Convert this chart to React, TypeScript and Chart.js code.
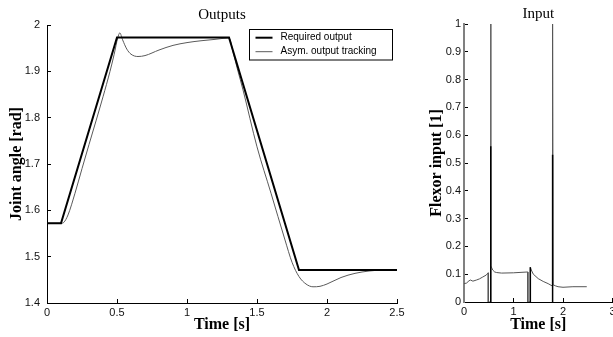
import React, { useEffect, useRef } from "react";
import { Chart, registerables } from "chart.js";
Chart.register(...registerables);

// ---- Outputs plot data ----
const requiredTime = [0, 0.1, 0.5, 1.3, 1.8, 2.5];
const requiredAngle = [1.572, 1.572, 1.973, 1.973, 1.471, 1.471];

const trackingTime = [0, 0.1, 0.12, 0.15, 0.2, 0.25, 0.3, 0.35, 0.4, 0.45, 0.48, 0.505, 0.52, 0.54, 0.57, 0.6, 0.65, 0.7, 0.8, 0.9, 1.0, 1.1, 1.2, 1.3, 1.33, 1.36, 1.4, 1.5, 1.6, 1.7, 1.75, 1.8, 1.85, 1.9, 1.95, 2.0, 2.1, 2.2, 2.3, 2.4, 2.5];
const trackingAngle = [1.572, 1.572, 1.574, 1.59, 1.637, 1.69, 1.742, 1.793, 1.845, 1.9, 1.937, 1.972, 1.983, 1.968, 1.948, 1.937, 1.932, 1.934, 1.946, 1.956, 1.962, 1.966, 1.969, 1.972, 1.94, 1.905, 1.86, 1.737, 1.637, 1.536, 1.488, 1.457, 1.441, 1.435, 1.436, 1.441, 1.455, 1.464, 1.469, 1.471, 1.471];

const outputsXTicks = [0, 0.5, 1, 1.5, 2, 2.5];
const outputsYTicks = [1.4, 1.5, 1.6, 1.7, 1.8, 1.9, 2];

// ---- Input plot data ----
const inputTime = [0, 0.05, 0.1, 0.13, 0.18, 0.25, 0.31, 0.38, 0.45, 0.49, 0.49, 0.54, 0.54, 0.545, 0.58, 0.62, 0.66, 0.76, 1.0, 1.29, 1.29, 1.34, 1.34, 1.36, 1.4, 1.5, 1.6, 1.7, 1.78, 1.79, 1.79, 1.8, 1.85, 1.9, 2.0, 2.2, 2.48];
const inputValue = [0.066, 0.068, 0.076, 0.079, 0.075, 0.079, 0.083, 0.09, 0.097, 0.105, 0, 0, 1, 0.13, 0.115, 0.108, 0.106, 0.104, 0.105, 0.108, 0, 0, 0.125, 0.115, 0.1, 0.084, 0.074, 0.066, 0.058, 0.057, 1, 0.062, 0.058, 0.055, 0.053, 0.055, 0.055];

const spikeTime = [0.54, 1.34, 1.79];
const spikeTop = [0.56, 0.125, 0.53];

const inputXTicks = [0, 1, 2, 3];
const inputYTicks = [0, 0.1, 0.2, 0.3, 0.4, 0.5, 0.6, 0.7, 0.8, 0.9, 1];

const fmt = (v: number) => String(Number(v.toFixed(2)));

const titlePlugin = {
  id: "plotTitle",
  afterDraw(chart: any, _args: any, opts: any) {
    const { ctx, chartArea } = chart;
    ctx.save();
    ctx.font = "15px 'Liberation Serif'";
    ctx.fillStyle = "#000";
    ctx.textAlign = "center";
    ctx.textBaseline = "middle";
    ctx.fillText(opts.text, (chartArea.left + chartArea.right) / 2, chartArea.top - opts.offset);
    ctx.restore();
  },
};

const boxLegendPlugin = {
  id: "boxLegend",
  afterDraw(chart: any, _args: any, opts: any) {
    if (!opts || !opts.display) return;
    const { ctx } = chart;
    ctx.save();
    ctx.fillStyle = "#fff";
    ctx.fillRect(opts.x, opts.y, opts.w, opts.h);
    ctx.strokeStyle = "#000";
    ctx.lineWidth = 1;
    ctx.strokeRect(opts.x, opts.y, opts.w, opts.h);
    ctx.font = "10px 'Liberation Sans'";
    ctx.textAlign = "left";
    ctx.textBaseline = "middle";
    chart.data.datasets.forEach((ds: any, i: number) => {
      const y = opts.y + opts.firstRow + i * opts.rowGap;
      ctx.strokeStyle = ds.borderColor;
      ctx.lineWidth = ds.borderWidth;
      ctx.beginPath();
      ctx.moveTo(opts.x + 6, y);
      ctx.lineTo(opts.x + 23, y);
      ctx.stroke();
      ctx.fillStyle = "#000";
      ctx.fillText(ds.label, opts.x + 31, y);
    });
    ctx.restore();
  },
};

function makeAxis(min: number, max: number, ticks: number[], fit: number, horizontal: boolean, titleText: string, titlePad: any, tickPad: number, borderColor = "#000", borderWidth = 1) {
  return {
    type: "linear",
    min,
    max,
    afterBuildTicks: (scale: any) => {
      scale.ticks = ticks.map((v) => ({ value: v }));
    },
    afterFit: (scale: any) => {
      if (horizontal) scale.height = fit;
      else scale.width = fit;
      scale.paddingLeft = 0;
      scale.paddingRight = 0;
      scale.paddingTop = 0;
      scale.paddingBottom = 0;
    },
    grid: { drawOnChartArea: false, drawTicks: true, tickLength: -4, color: "#000", lineWidth: 1 },
    border: { display: true, color: borderColor, width: borderWidth },
    ticks: {
      autoSkip: false,
      maxRotation: 0,
      padding: tickPad,
      color: "#111",
      font: { family: "'Liberation Sans'", size: 11 },
      callback: (v: any) => fmt(Number(v)),
    },
    title: {
      display: true,
      text: titleText,
      color: "#000",
      font: { family: "'Liberation Serif'", size: 16, weight: "bold" },
      padding: titlePad,
    },
  };
}

function useChart(ref: any, build: () => any) {
  useEffect(() => {
    const chart = new Chart(ref.current, build());
    return () => chart.destroy();
  }, []);
}

export default function App() {
  const leftRef = useRef<HTMLCanvasElement>(null);
  const rightRef = useRef<HTMLCanvasElement>(null);

  useChart(leftRef, () => ({
    type: "scatter",
    data: {
      datasets: [
        {
          label: "Required output",
          data: requiredTime.map((t, i) => ({ x: t, y: requiredAngle[i] })),
          showLine: true,
          borderColor: "#000",
          borderWidth: 2,
          pointRadius: 0,
          tension: 0,
        },
        {
          label: "Asym. output tracking",
          data: trackingTime.map((t, i) => ({ x: t, y: trackingAngle[i] })),
          showLine: true,
          borderColor: "#5a5a5a",
          borderWidth: 1,
          pointRadius: 0,
          cubicInterpolationMode: "monotone",
        },
      ],
    },
    options: {
      animation: false,
      responsive: false,
      events: [],
      layout: { padding: { top: 25, right: 33, left: 0, bottom: 0 } },
      scales: {
        x: makeAxis(0, 2.5, outputsXTicks, 34, true, "Time [s]", { top: 0, bottom: 3 }, 7),
        y: makeAxis(1.4, 2, outputsYTicks, 47, false, "Joint angle [rad]", { top: 7, bottom: 0 }, 11),
      },
      plugins: {
        legend: { display: false },
        tooltip: { enabled: false },
        plotTitle: { text: "Outputs", offset: 10 },
        boxLegend: { display: true, x: 249.5, y: 29.5, w: 143, h: 30.5, firstRow: 8.2, rowGap: 14 },
      },
    },
    plugins: [titlePlugin, boxLegendPlugin],
  }));

  useChart(rightRef, () => {
    const spikeData: any[] = [];
    spikeTime.forEach((t, i) => {
      spikeData.push({ x: t, y: 0 }, { x: t, y: spikeTop[i] }, { x: t, y: NaN });
    });
    return {
      type: "scatter",
      data: {
        datasets: [
          {
            label: "spikes",
            data: spikeData,
            showLine: true,
            spanGaps: false,
            borderColor: "#000",
            borderWidth: 1.5,
            pointRadius: 0,
          },
          {
            label: "Flexor input",
            data: inputTime.map((t, i) => ({ x: t, y: inputValue[i] })),
            showLine: true,
            borderColor: "#555",
            borderWidth: 1,
            pointRadius: 0,
            tension: 0,
          },
        ],
      },
      options: {
        animation: false,
        responsive: false,
        events: [],
        layout: { padding: { top: 24, right: 0.5, left: 0, bottom: 0 } },
        scales: {
          x: makeAxis(0, 3, inputXTicks, 35, true, "Time [s]", { top: 0, bottom: 3 }, 7),
          y: makeAxis(0, 1, inputYTicks, 44, false, "Flexor input [1]", { top: 7, bottom: 0 }, 7, "#808080", 2),
        },
        plugins: {
          legend: { display: false },
          tooltip: { enabled: false },
          plotTitle: { text: "Input", offset: 10 },
        },
      },
      plugins: [titlePlugin],
    };
  });

  return (
    <div style={{ position: "fixed", left: 0, top: 0, width: 613, height: 337, background: "#fff" }}>
      <canvas ref={leftRef} width={430} height={337} style={{ position: "absolute", left: 0, top: 0, width: 430, height: 337 }} />
      <canvas ref={rightRef} width={193} height={337} style={{ position: "absolute", left: 420, top: 0, width: 193, height: 337 }} />
    </div>
  );
}
